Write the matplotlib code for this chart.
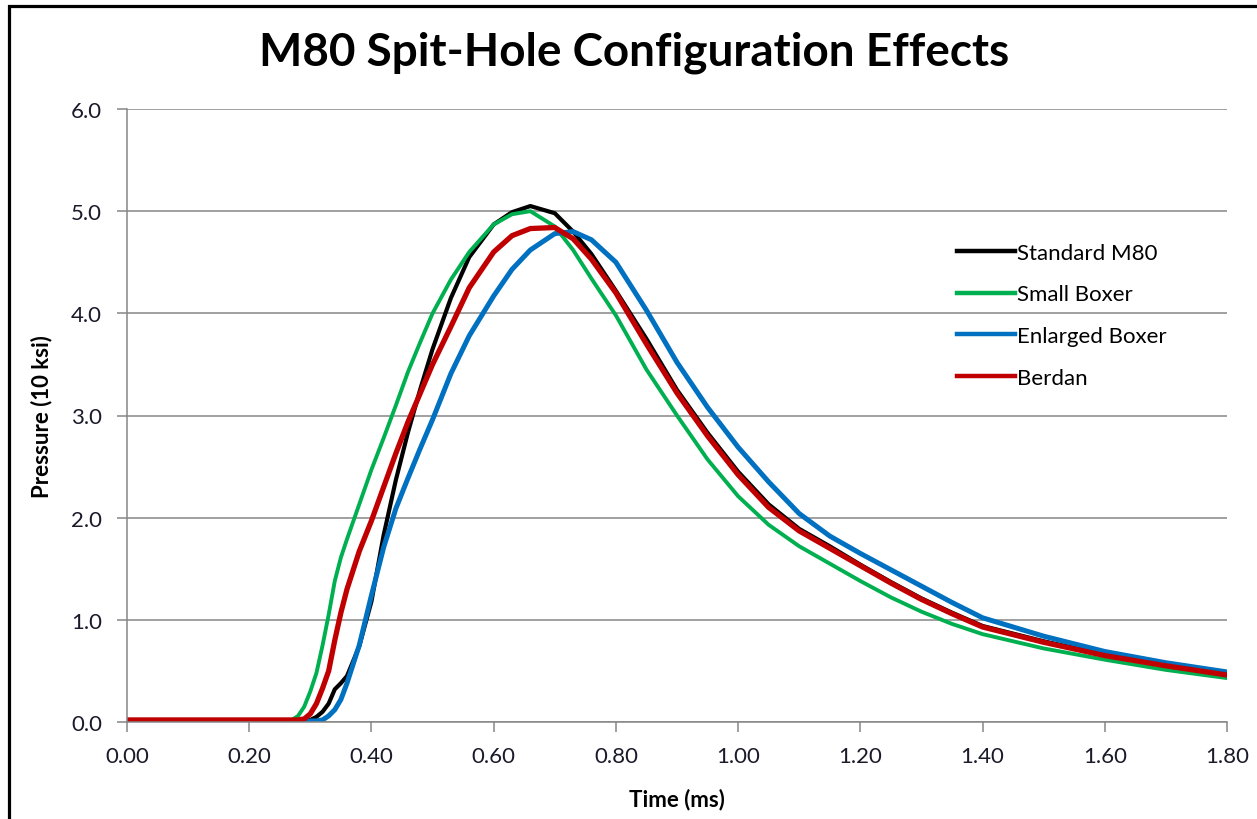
import matplotlib
matplotlib.use('Agg')
import matplotlib.pyplot as plt
from matplotlib.patches import Rectangle

plt.rcParams['font.family'] = ['Lato', 'DejaVu Sans']

# time axis (ms) and pressure readings (10 ksi)
time_ms = [0.00, 0.10, 0.20, 0.25, 0.27, 0.28, 0.29, 0.30, 0.31, 0.32, 0.33, 0.34, 0.35, 0.36,
           0.38, 0.40, 0.42, 0.44, 0.46, 0.48, 0.50, 0.53, 0.56, 0.60, 0.63, 0.66, 0.70, 0.73,
           0.76, 0.80, 0.85, 0.90, 0.95, 1.00, 1.05, 1.10, 1.15, 1.20, 1.25, 1.30, 1.35, 1.40,
           1.50, 1.60, 1.70, 1.80]

standard_m80 = [0.01, 0.01, 0.01, 0.01, 0.01, 0.01, 0.01, 0.02, 0.05, 0.10, 0.18, 0.32, 0.38, 0.45,
                0.74, 1.18, 1.83, 2.37, 2.84, 3.26, 3.65, 4.15, 4.55, 4.87, 4.99, 5.05, 4.98, 4.80,
                4.58, 4.22, 3.75, 3.25, 2.83, 2.45, 2.13, 1.89, 1.72, 1.54, 1.37, 1.21, 1.07, 0.94,
                0.79, 0.66, 0.55, 0.47]

small_boxer = [0.01, 0.01, 0.01, 0.01, 0.02, 0.06, 0.15, 0.30, 0.48, 0.75, 1.05, 1.38, 1.61, 1.79,
               2.13, 2.47, 2.78, 3.10, 3.43, 3.72, 4.00, 4.33, 4.60, 4.87, 4.97, 5.00, 4.85, 4.62,
               4.34, 3.98, 3.45, 3.00, 2.57, 2.21, 1.93, 1.72, 1.55, 1.38, 1.22, 1.08, 0.96, 0.86,
               0.72, 0.61, 0.51, 0.43]

enlarged_boxer = [0.01, 0.01, 0.01, 0.01, 0.01, 0.01, 0.01, 0.01, 0.01, 0.02, 0.06, 0.12, 0.22, 0.38,
                  0.75, 1.24, 1.71, 2.09, 2.39, 2.68, 2.96, 3.41, 3.78, 4.17, 4.43, 4.62, 4.78, 4.80,
                  4.72, 4.50, 4.03, 3.52, 3.08, 2.69, 2.35, 2.04, 1.82, 1.65, 1.49, 1.33, 1.17, 1.02,
                  0.84, 0.69, 0.58, 0.49]

berdan = [0.02, 0.02, 0.02, 0.02, 0.02, 0.02, 0.03, 0.08, 0.18, 0.33, 0.50, 0.80, 1.07, 1.30,
          1.67, 1.97, 2.30, 2.63, 2.94, 3.22, 3.50, 3.87, 4.25, 4.60, 4.76, 4.83, 4.84, 4.73,
          4.53, 4.20, 3.70, 3.22, 2.80, 2.42, 2.10, 1.87, 1.70, 1.53, 1.36, 1.20, 1.06, 0.93,
          0.78, 0.65, 0.55, 0.46]

series = [('Standard M80', standard_m80, '#000000', 3.0),
          ('Small Boxer', small_boxer, '#00B050', 2.8),
          ('Enlarged Boxer', enlarged_boxer, '#0070C0', 3.6),
          ('Berdan', berdan, '#C00000', 3.8)]

x_ticks = [0.0, 0.2, 0.4, 0.6, 0.8, 1.0, 1.2, 1.4, 1.6, 1.8]
y_ticks = [0, 1, 2, 3, 4, 5, 6]

W, H = 1257, 820
fig = plt.figure(figsize=(W / 100, H / 100), dpi=100)
ax = fig.add_axes([127 / W, 1 - 723 / H, 1100 / W, 613 / H])

grey = '#868686'
for name, vals, col, lw in series:
    ax.plot(time_ms, vals, color=col, lw=lw, label=name, solid_joinstyle='round')

ax.set_xlim(0, 1.8)
ax.set_ylim(0, 6)
ax.set_xticks(x_ticks)
ax.set_yticks(y_ticks)
ax.set_xticklabels([f'{v:.2f}' for v in x_ticks])
ax.set_yticklabels([f'{v:.1f}' for v in y_ticks])
ax.tick_params(axis='both', colors=grey, labelcolor='#1a1a2a', labelsize=16,
               length=7, width=1.1, direction='out')
ax.tick_params(axis='x', pad=10)
ax.tick_params(axis='y', pad=11)
ax.yaxis.grid(True, color=grey, lw=1.1)
ax.set_axisbelow(True)
for s in ['top', 'right']:
    ax.spines[s].set_visible(False)
for s in ['left', 'bottom']:
    ax.spines[s].set_color(grey)
    ax.spines[s].set_linewidth(1.1)

leg = ax.legend(loc='upper left', bbox_to_anchor=(0.7545, 0.782), frameon=False,
                fontsize=16, handlelength=2.6, handletextpad=0.1, labelspacing=0.98,
                borderpad=0, borderaxespad=0)
for line in leg.get_lines():
    line.set_linewidth(3.2)

fig.text(634 / W, 1 - 65 / H, 'M80 Spit-Hole Configuration Effects', ha='center',
         va='baseline', fontsize=33, fontweight='bold')
fig.text(677 / W, 1 - 800 / H, 'Time (ms)', ha='center', va='center',
         fontsize=16, fontweight='bold')
fig.text(42 / W, 1 - 417 / H, 'Pressure (10 ksi)', ha='center', va='center',
         rotation=90, fontsize=16, fontweight='bold')

# chart border (only left and top edges fall inside the picture)
fig.patches.append(Rectangle((9 / W, -0.1), 1.2, 1.1 - 7 / H, transform=fig.transFigure,
                             fill=False, edgecolor='black', lw=2.3))

fig.savefig('out.png', dpi=100)
